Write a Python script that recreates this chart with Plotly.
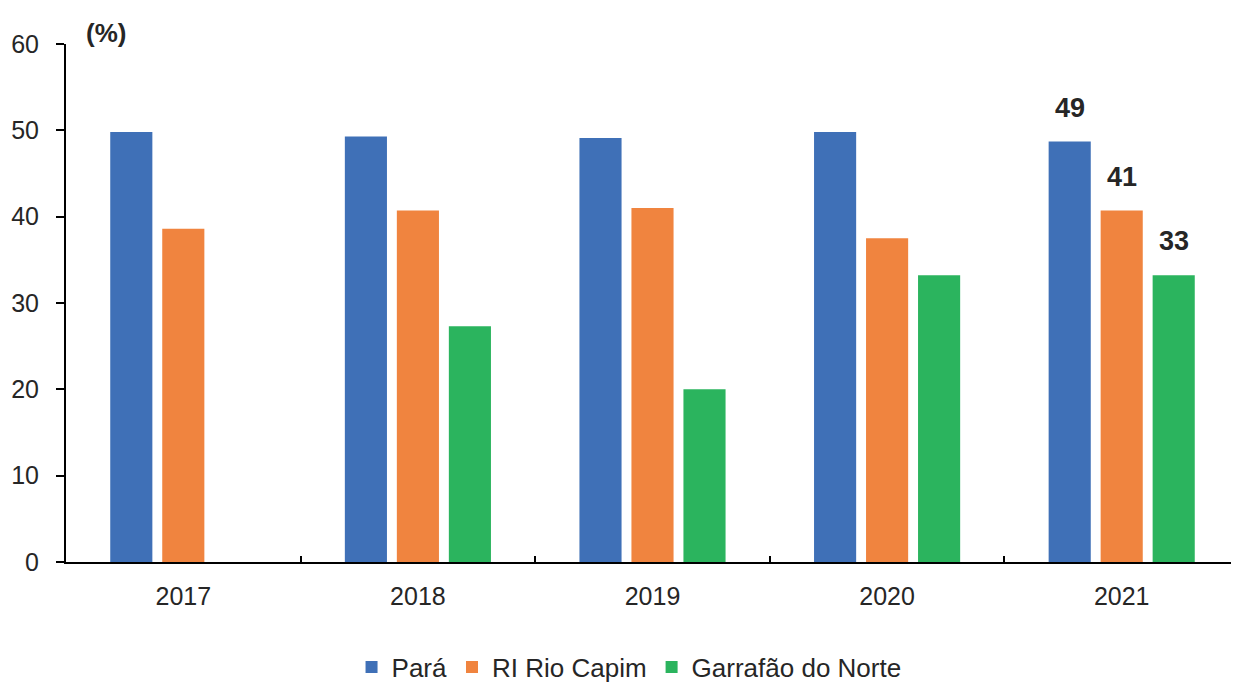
import plotly.graph_objects as go

years = ["2017", "2018", "2019", "2020", "2021"]
para = [49.8, 49.3, 49.1, 49.8, 48.7]
rio_capim = [38.6, 40.7, 41.0, 37.5, 40.7]
garrafao = [None, 27.3, 20.0, 33.2, 33.2]
label_year = "2021"
label_values = ["49", "41", "33"]

series = [
    ("Pará", para, "#3F70B7"),
    ("RI Rio Capim", rio_capim, "#F0843F"),
    ("Garrafão do Norte", garrafao, "#2BB45E"),
]

fig = go.Figure()
for name, vals, color in series:
    fig.add_trace(go.Bar(x=years, y=vals, name=name, marker_color=color,
                         marker_line_width=0))

font_family = "Liberation Sans, Arial, sans-serif"
text_color = "#262626"

idx = years.index(label_year)
slot_px = 52
for i, ((name, vals, color), lab) in enumerate(zip(series, label_values)):
    fig.add_annotation(x=idx, y=vals[idx], text=f"<b>{lab}</b>",
                       showarrow=False, xshift=(i - 1) * slot_px, yshift=34,
                       yanchor="middle",
                       font=dict(size=27, color=text_color, family=font_family))

fig.add_annotation(xref="paper", yref="paper", x=0, y=1, xshift=18, yshift=-6,
                   xanchor="left", yanchor="bottom", text="<b>(%)</b>",
                   showarrow=False,
                   font=dict(size=26, color=text_color, family=font_family))

fig.update_layout(
    width=1239, height=682,
    margin=dict(l=58, r=8, t=36, b=128, autoexpand=False),
    paper_bgcolor="white", plot_bgcolor="white",
    barmode="group", bargap=0.335, bargroupgap=0.19,
    font=dict(family=font_family, size=25, color=text_color),
    showlegend=True,
    legend=dict(orientation="h", x=0.48, xanchor="center",
                y=-0.203, yanchor="middle", font=dict(size=26)),
    xaxis=dict(type="category", range=[-0.5, len(years) - 0.5],
               showline=True, linecolor="black", linewidth=2,
               ticks="inside", tickson="boundaries", ticklen=6,
               tickcolor="black", tickwidth=2, showgrid=False,
               ticklabelstandoff=11),
    yaxis=dict(range=[0, 60], dtick=10, showline=True, linecolor="black",
               linewidth=2, ticks="outside", ticklen=8, tickcolor="black",
               tickwidth=2, showgrid=False, zeroline=False,
               ticklabelstandoff=12),
)

fig.write_html("out.html")
